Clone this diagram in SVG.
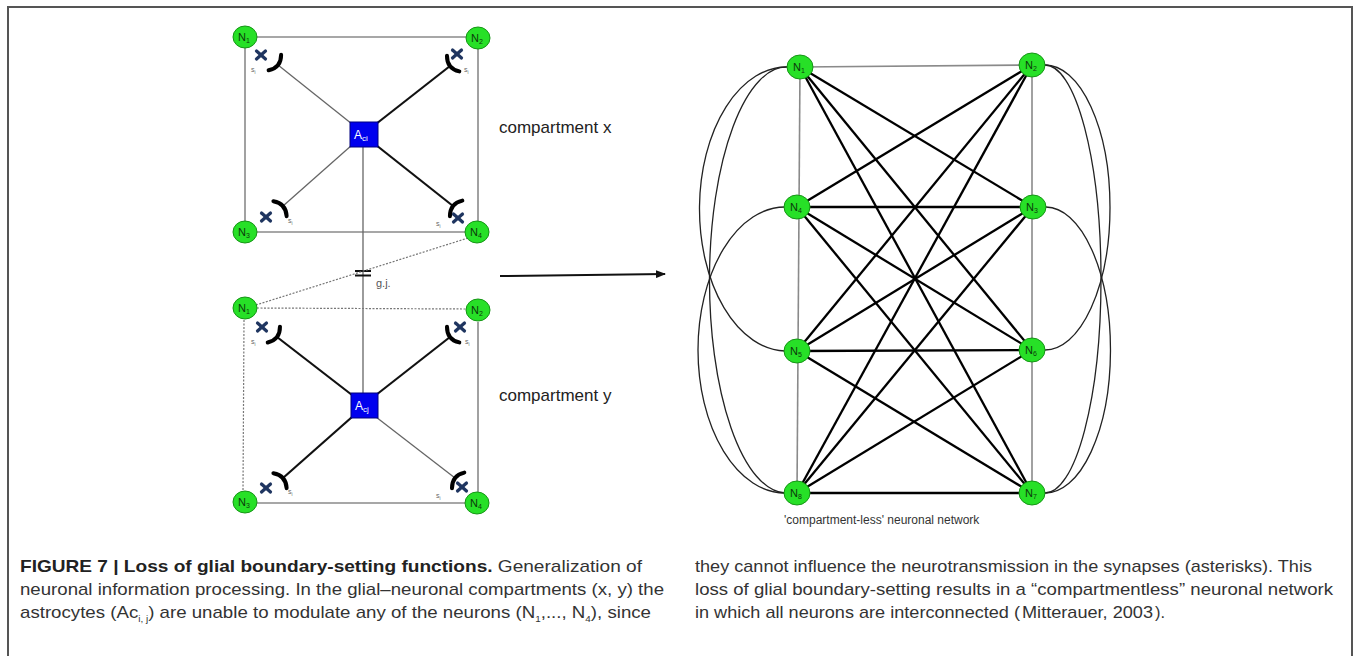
<svg xmlns="http://www.w3.org/2000/svg" width="1354" height="656" viewBox="0 0 1354 656">
<style>
.nd{fill:#27e027;stroke:#159515;stroke-width:1}
.nl{font-family:"Liberation Sans",Arial,sans-serif;font-size:11px;fill:#0b3a0b}
.ns{font-size:7px}
.g1{stroke:#8a8a8a;stroke-width:1.6;fill:none}
.g2{stroke:#666;stroke-width:1.3;fill:none}
.bk{stroke:#111;stroke-width:2.2;fill:none}
.dt{stroke:#777;stroke-width:1.2;stroke-dasharray:2 1.5;fill:none}
.cv{stroke:#222;stroke-width:1.3;fill:none}
.dg{stroke:#000;stroke-width:2.3;fill:none}
.cap{font-family:"Liberation Sans",Arial,sans-serif;font-size:17px;fill:#333}
.lab{font-family:"Liberation Sans",Arial,sans-serif;font-size:17px;fill:#222}
.sl{font-family:"Liberation Sans",Arial,sans-serif;font-size:7px;fill:#666}
.cr{stroke:#000;stroke-width:4;fill:none;stroke-linecap:round}
.xx{stroke:#1f3560;stroke-width:3.2;stroke-linecap:round}
</style>
<defs>
<path id="cres" d="M -4 -10 Q 4 0 -4 10" class="cr"/>
<g id="xm"><line x1="-4.5" y1="-4" x2="4.5" y2="4" class="xx"/><line x1="-4.5" y1="4" x2="4.5" y2="-4" class="xx"/></g>
<marker id="ah" markerWidth="10" markerHeight="8" refX="9" refY="4" orient="auto" markerUnits="userSpaceOnUse"><path d="M0 0 L10 4 L0 8 Z" fill="#111"/></marker>
</defs>
<rect width="1354" height="656" fill="#fff"/>
<g id="frame"><path d="M 8 656 L 8 7 L 1352 7 L 1352 656" stroke="#555" stroke-width="2" fill="none"/></g>

<g id="connectors">
<line x1="245" y1="37" x2="478" y2="37" class="g1"/>
<line x1="245" y1="37" x2="245" y2="232" class="g1"/>
<line x1="478" y1="38" x2="478" y2="232" class="g1" stroke-width="2"/>
<line x1="245" y1="232" x2="477" y2="232" class="g1"/>
<line x1="352" y1="124" x2="278" y2="65" class="g2"/>
<line x1="376" y1="124" x2="450" y2="66" class="bk"/>
<line x1="352" y1="145" x2="283" y2="206" class="g2"/>
<line x1="376" y1="145" x2="453" y2="206" class="bk"/>
<line x1="363" y1="147" x2="363" y2="393" class="g2" stroke="#888"/>
<line x1="355" y1="271" x2="371" y2="271" stroke="#111" stroke-width="2"/>
<line x1="355" y1="275.5" x2="371" y2="275.5" stroke="#111" stroke-width="2"/>
<line x1="468" y1="238" x2="256" y2="305" class="dt"/>
<line x1="257" y1="308" x2="466" y2="309" class="dt"/>
<line x1="244" y1="320" x2="243" y2="491" class="dt"/>
<line x1="478" y1="322" x2="478" y2="492" class="g1" stroke-width="2"/>
<line x1="257" y1="503" x2="465" y2="503" class="g1"/>
<line x1="352" y1="395" x2="277" y2="337" class="bk"/>
<line x1="376" y1="395" x2="450" y2="337" class="bk"/>
<line x1="352" y1="417" x2="283" y2="478" class="bk"/>
<line x1="376" y1="417" x2="455" y2="478" class="g2"/>
<line x1="500" y1="276" x2="665" y2="274" stroke="#111" stroke-width="2" marker-end="url(#ah)"/>
<line x1="800" y1="67" x2="1032" y2="65" class="g1" stroke="#777" stroke-width="2"/>
<line x1="800" y1="67" x2="797" y2="493" class="g1" stroke="#444" stroke-width="1.8"/>
<line x1="1032" y1="65" x2="1032" y2="493" class="g1" stroke="#555" stroke-width="1.8"/>
<line x1="797" y1="493" x2="1032" y2="493" class="dg" stroke-width="2"/>
<line x1="797" y1="207" x2="1033" y2="207" class="dg" stroke-width="2.6"/>
<line x1="797" y1="351" x2="1032" y2="350" class="dg" stroke-width="2.6"/>
<line x1="800" y1="67" x2="1033" y2="207" class="dg"/>
<line x1="800" y1="67" x2="1032" y2="350" class="dg"/>
<line x1="800" y1="67" x2="1032" y2="493" class="dg"/>
<line x1="797" y1="207" x2="1032" y2="65" class="dg"/>
<line x1="797" y1="207" x2="1032" y2="350" class="dg"/>
<line x1="797" y1="207" x2="1032" y2="493" class="dg"/>
<line x1="797" y1="351" x2="1032" y2="65" class="dg"/>
<line x1="797" y1="351" x2="1033" y2="207" class="dg"/>
<line x1="797" y1="351" x2="1032" y2="493" class="dg"/>
<line x1="797" y1="493" x2="1032" y2="65" class="dg"/>
<line x1="797" y1="493" x2="1033" y2="207" class="dg"/>
<line x1="797" y1="493" x2="1032" y2="350" class="dg"/>
<path d="M 788 67 A 87 142 0 0 0 785 351" class="cv"/>
<path d="M 785 207 A 87 143 0 0 0 785 493" class="cv"/>
<path d="M 788 67 A 77 213 0 0 0 785 493" class="cv"/>
<path d="M 1045 65 A 65 142.5 0 0 1 1045 350" class="cv"/>
<path d="M 1046 207 A 65 143 0 0 1 1045 493" class="cv"/>
<path d="M 1045 65 A 56 214 0 0 1 1045 493" class="cv"/>
</g>

<g id="synapses">
<use href="#cres" transform="translate(278 65) rotate(38.6)"/>
<use href="#cres" transform="translate(450 66) rotate(141.9)"/>
<use href="#cres" transform="translate(283 206) rotate(-41.5)"/>
<use href="#cres" transform="translate(453 206) rotate(-141.6)"/>
<use href="#cres" transform="translate(277 337) rotate(37.7)"/>
<use href="#cres" transform="translate(450 337) rotate(142)"/>
<use href="#cres" transform="translate(283 478) rotate(-41.5)"/>
<use href="#cres" transform="translate(455 478) rotate(-142)"/>
<use href="#xm" transform="translate(261 55)"/>
<use href="#xm" transform="translate(457 54)"/>
<use href="#xm" transform="translate(266 217)"/>
<use href="#xm" transform="translate(458 218)"/>
<use href="#xm" transform="translate(262 327)"/>
<use href="#xm" transform="translate(460 327)"/>
<use href="#xm" transform="translate(266 488)"/>
<use href="#xm" transform="translate(462 487)"/>
<text class="sl" x="251" y="72">s<tspan font-size="4.5" dy="1.5">i</tspan></text>
<text class="sl" x="464" y="72">s<tspan font-size="4.5" dy="1.5">i</tspan></text>
<text class="sl" x="288" y="223">s<tspan font-size="4.5" dy="1.5">i</tspan></text>
<text class="sl" x="436" y="226">s<tspan font-size="4.5" dy="1.5">i</tspan></text>
<text class="sl" x="251" y="344">s<tspan font-size="4.5" dy="1.5">i</tspan></text>
<text class="sl" x="465" y="344">s<tspan font-size="4.5" dy="1.5">i</tspan></text>
<text class="sl" x="288" y="494">s<tspan font-size="4.5" dy="1.5">i</tspan></text>
<text class="sl" x="436" y="498">s<tspan font-size="4.5" dy="1.5">i</tspan></text>
</g>

<g id="aci"><rect x="350" y="122" width="28" height="25" fill="#0000ee" stroke="#000080"/><text x="354" y="139" font-family="Liberation Sans,Arial,sans-serif" font-size="12" fill="#fff">A<tspan font-size="8" dy="2">ci</tspan></text></g>
<g id="acj"><rect x="351" y="393" width="27" height="25" fill="#0000ee" stroke="#000080"/><text x="355" y="410" font-family="Liberation Sans,Arial,sans-serif" font-size="12" fill="#fff">A<tspan font-size="8" dy="2">cj</tspan></text></g>

<g id="x-n1"><ellipse class="nd" cx="245" cy="37" rx="12" ry="11"/><text class="nl" x="238" y="41">N<tspan class="ns" dy="2">1</tspan></text></g>
<g id="x-n2"><ellipse class="nd" cx="478" cy="38" rx="12" ry="11"/><text class="nl" x="471" y="42">N<tspan class="ns" dy="2">2</tspan></text></g>
<g id="x-n3"><ellipse class="nd" cx="245" cy="232" rx="12" ry="11"/><text class="nl" x="238" y="236">N<tspan class="ns" dy="2">3</tspan></text></g>
<g id="x-n4"><ellipse class="nd" cx="477" cy="232" rx="12" ry="11"/><text class="nl" x="470" y="236">N<tspan class="ns" dy="2">4</tspan></text></g>
<g id="y-n1"><ellipse class="nd" cx="245" cy="308" rx="12" ry="11"/><text class="nl" x="238" y="312">N<tspan class="ns" dy="2">1</tspan></text></g>
<g id="y-n2"><ellipse class="nd" cx="478" cy="310" rx="12" ry="11"/><text class="nl" x="471" y="314">N<tspan class="ns" dy="2">2</tspan></text></g>
<g id="y-n3"><ellipse class="nd" cx="245" cy="502" rx="12" ry="11"/><text class="nl" x="238" y="506">N<tspan class="ns" dy="2">3</tspan></text></g>
<g id="y-n4"><ellipse class="nd" cx="477" cy="503" rx="12" ry="11"/><text class="nl" x="470" y="507">N<tspan class="ns" dy="2">4</tspan></text></g>

<g id="r-n1"><ellipse class="nd" cx="800" cy="67" rx="13" ry="12"/><text class="nl" x="793" y="71">N<tspan class="ns" dy="2">1</tspan></text></g>
<g id="r-n2"><ellipse class="nd" cx="1032" cy="65" rx="13" ry="12"/><text class="nl" x="1025" y="69">N<tspan class="ns" dy="2">2</tspan></text></g>
<g id="r-n4"><ellipse class="nd" cx="797" cy="207" rx="13" ry="12"/><text class="nl" x="790" y="211">N<tspan class="ns" dy="2">4</tspan></text></g>
<g id="r-n3"><ellipse class="nd" cx="1033" cy="207" rx="13" ry="12"/><text class="nl" x="1026" y="211">N<tspan class="ns" dy="2">3</tspan></text></g>
<g id="r-n5"><ellipse class="nd" cx="797" cy="351" rx="13" ry="12"/><text class="nl" x="790" y="355">N<tspan class="ns" dy="2">5</tspan></text></g>
<g id="r-n6"><ellipse class="nd" cx="1032" cy="350" rx="13" ry="12"/><text class="nl" x="1025" y="354">N<tspan class="ns" dy="2">6</tspan></text></g>
<g id="r-n8"><ellipse class="nd" cx="797" cy="493" rx="13" ry="12"/><text class="nl" x="790" y="497">N<tspan class="ns" dy="2">8</tspan></text></g>
<g id="r-n7"><ellipse class="nd" cx="1032" cy="493" rx="13" ry="12"/><text class="nl" x="1025" y="497">N<tspan class="ns" dy="2">7</tspan></text></g>

<g id="labels">
<text class="lab" x="499" y="133">compartment x</text>
<text class="lab" x="499" y="401">compartment y</text>
<text x="376" y="287" font-family="Liberation Sans,Arial,sans-serif" font-size="11" fill="#555">g.j.</text>
<text x="784" y="524" font-family="Liberation Sans,Arial,sans-serif" font-size="12" fill="#333">'compartment-less' neuronal network</text>
</g>

<g id="caption">
<text class="cap" x="20" y="572" textLength="622" lengthAdjust="spacingAndGlyphs"><tspan font-weight="bold" fill="#222">FIGURE 7 | Loss of glial boundary-setting functions.</tspan> Generalization of</text>
<text class="cap" x="20" y="595" textLength="644" lengthAdjust="spacingAndGlyphs">neuronal information processing. In the glial–neuronal compartments (x, y) the</text>
<text class="cap" x="20" y="618" textLength="631" lengthAdjust="spacingAndGlyphs">astrocytes (Ac<tspan font-size="9" dy="4">i, j</tspan><tspan dy="-4">) are unable to modulate any of the neurons (N</tspan><tspan font-size="9" dy="4">1</tspan><tspan dy="-4">,..., N</tspan><tspan font-size="9" dy="4">4</tspan><tspan dy="-4">), since</tspan></text>
<text class="cap" x="695" y="572" textLength="617" lengthAdjust="spacingAndGlyphs">they cannot influence the neurotransmission in the synapses (asterisks). This</text>
<text class="cap" x="695" y="595" textLength="638" lengthAdjust="spacingAndGlyphs">loss of glial boundary-setting results in a “compartmentless” neuronal network</text>
<text class="cap" x="695" y="618" textLength="325" lengthAdjust="spacingAndGlyphs">in which all neurons are interconnected (</text>
<text class="cap" x="1022" y="618" textLength="131" lengthAdjust="spacingAndGlyphs" fill="#999">Mitterauer, 2003</text>
<text class="cap" x="1155" y="618" textLength="10" lengthAdjust="spacingAndGlyphs">).</text>
</g>
</svg>
